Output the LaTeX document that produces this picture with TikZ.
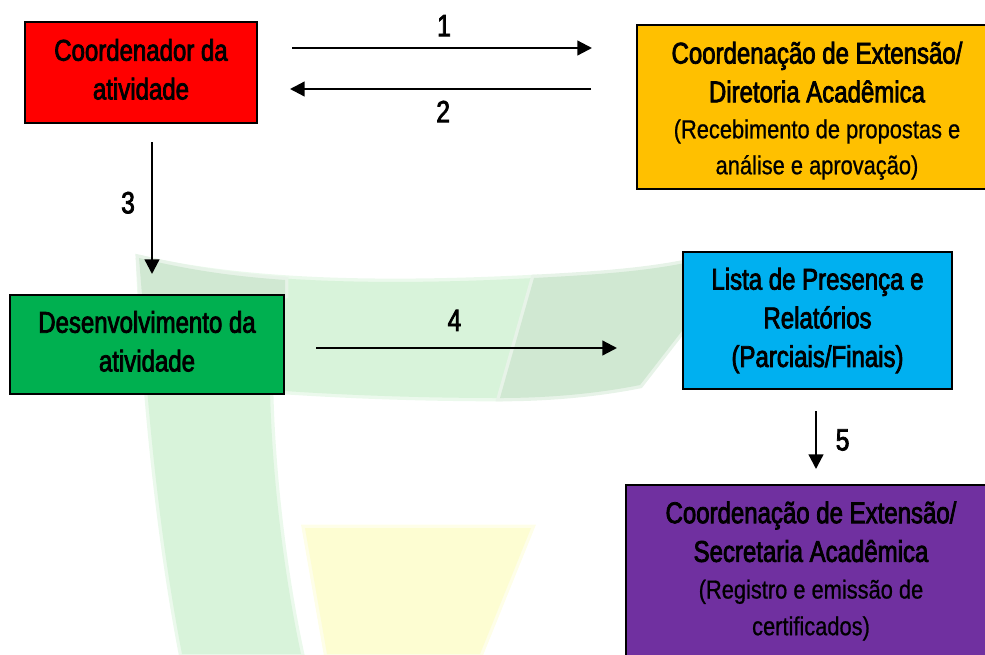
\documentclass[tikz,border=0pt]{standalone}
\usepackage{fontspec}
\usepackage{tikz}
\usetikzlibrary{arrows.meta,positioning,calc}
\setmainfont{Liberation Sans}
\newfontfamily\headfont[FakeStretch=0.8,FakeBold=2.5]{Liberation Sans}
\newfontfamily\subfont[FakeStretch=0.84,FakeBold=0.8]{Liberation Sans}
\newcommand{\subline}[1]{{\subfont\fontsize{19.5}{27}\selectfont #1}}
\newcommand{\padtop}[1]{\rule{0pt}{#1}}
\newcommand{\padbot}[1]{\rule[-#1]{0pt}{0pt}}
\definecolor{boxred}{HTML}{FF0000}
\definecolor{boxorange}{HTML}{FFC000}
\definecolor{boxgreen}{HTML}{00B050}
\definecolor{boxblue}{HTML}{00B0F0}
\definecolor{boxpurple}{HTML}{7030A0}
\definecolor{markgreen}{HTML}{D8F3DA}
\definecolor{markgrey}{HTML}{D0E8D2}
\definecolor{markyellow}{HTML}{FDFDD2}
\tikzset{block/.style={rectangle, draw=black, line width=1.5pt, align=center, inner sep=0pt, font=\headfont\fontsize{22.5}{29}\selectfont}}
\tikzset{flow/.style={->, line width=1.7pt}}
\tikzset{numlabel/.style={font=\headfont\fontsize{23}{24}\selectfont, inner sep=0pt}}
\tikzset{markpart/.style={fill=#1, preaction={draw=#1!50, line width=5pt}}}

\begin{document}
\begin{tikzpicture}[x=0.75pt, y=-0.75pt, >={Triangle[length=11pt,width=11pt]}]
    \clip (0,0) rectangle (985,654);
    % watermark behind the boxes
    \path[markpart=markgreen] (139,258) .. controls (250,285) and (400,285) .. (534,278)
        -- (500,398) .. controls (420,398) and (340,395) .. (270,390)
        .. controls (272,480) and (285,580) .. (301,654) -- (182,654)
        .. controls (160,540) and (145,400) .. (139,258);
    \path[markpart=markgrey] (534,278) .. controls (590,275) and (640,272) .. (685,263)
        -- (685,327) -- (640,385) .. controls (590,395) and (540,398) .. (500,398) -- cycle;
    \path[markpart=markgrey] (139,258) .. controls (190,270) and (230,276) .. (285,280) -- (285,295) -- (142,295) -- cycle;
    \path[markpart=markyellow] (305,528) -- (531,528) -- (480,654) -- (327,654) -- cycle;

    \node[block, fill=boxred, minimum width=174pt, minimum height=75.5pt] (coord) at (141,72.5)
        {Coordenador da\\atividade\padbot{5pt}};
    \node[block, fill=boxorange, minimum width=270pt, minimum height=123pt] (ext) at (817,107)
        {\padtop{22pt}Coordenação de Extensão/\\Diretoria Acadêmica\\[-2pt]\subline{(Recebimento de propostas e}\\[-2pt]\subline{análise e aprovação)}};
    \node[block, fill=boxgreen, minimum width=205.5pt, minimum height=74.5pt] (dev) at (147,344.5)
        {Desenvolvimento da\\atividade\padbot{5pt}};
    \node[block, fill=boxblue, minimum width=201.5pt, minimum height=102.5pt] (lista) at (817.5,320.5)
        {Lista de Presença e\\Relatórios\\(Parciais/Finais)};
    \node[block, fill=boxpurple, minimum width=277pt, minimum height=129pt] (sec) at (811,571)
        {Coordenação de Extensão/\\Secretaria Acadêmica\\[-1.5pt]\subline{(Registro e emissão de}\\[-1.5pt]\subline{certificados)}};

    \coordinate (a1) at (292,48);
    \coordinate (b1) at (592,48);
    \coordinate (a2) at (591,89);
    \coordinate (b2) at (290,89);
    \coordinate (a3) at (152,142);
    \coordinate (b3) at (152,274);
    \coordinate (a4) at (316,348);
    \coordinate (b4) at (617,348);
    \coordinate (a5) at (816,411);
    \coordinate (b5) at (816,469);

    \draw[flow] (a1) -- node[numlabel, above=8pt, xshift=1.5pt] (n1) {1} (b1);
    \draw[flow] (a2) -- node[numlabel, below=8pt, xshift=2pt] (n2) {2} (b2);
    \draw[flow] (a3) -- node[numlabel, left=12pt, pos=0.46] (n3) {3} (b3);
    \draw[flow] (a4) -- node[numlabel, above=12pt, pos=0.46] (n4) {4} (b4);
    \draw[flow] (a5) -- node[numlabel, right=14pt] (n5) {5} (b5);
\end{tikzpicture}
\end{document}
